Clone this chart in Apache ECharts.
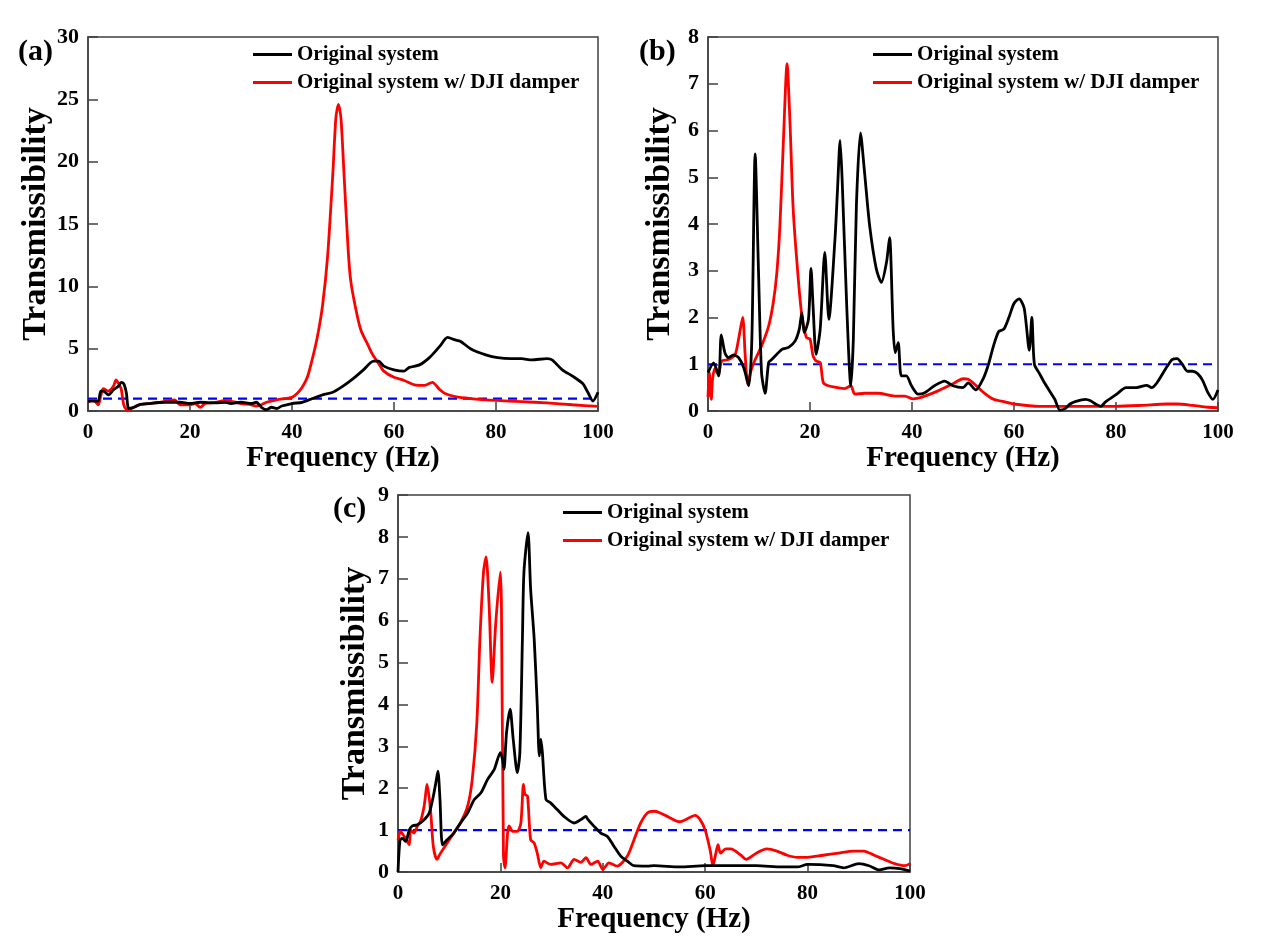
<!DOCTYPE html>
<html>
<head>
<meta charset="utf-8">
<title>Transmissibility</title>
<script src="https://cdn.jsdelivr.net/npm/echarts@6/dist/echarts.min.js"></script>
<style>
  html, body { margin: 0; padding: 0; background: #fff; }
  #chart { width: 1261px; height: 949px; }
</style>
</head>
<body>
<div id="chart"></div>
<script>
// (a) 原始系统 / 加 DJI 阻尼器
const freqA_orig = [0,1,2,2.5,3,4,5,6,6.5,7,7.5,8,9,10,12,15,18,20,22,25,27,28,30,32,33,34,35,36,37,38,40,42,44,46,48,50,52,54,56,57,58,60,62,63,65,67,69,70.5,72,73,75,78,80,83,85,87,90,91,93,95,97,98,99,100];
const transA_orig = [0.8,0.8,0.8,1.6,1.6,1.3,1.7,2.0,2.3,2.2,1.5,0.2,0.3,0.5,0.6,0.7,0.7,0.6,0.7,0.65,0.7,0.6,0.7,0.6,0.7,0.3,0.1,0.3,0.2,0.4,0.6,0.7,1.0,1.3,1.5,2.0,2.6,3.3,4.0,4.0,3.6,3.3,3.2,3.5,3.7,4.3,5.2,5.9,5.7,5.6,5.0,4.5,4.3,4.2,4.2,4.1,4.2,4.1,3.3,2.8,2.2,1.5,0.8,1.5];
const freqA_dji = [0,1,2,2.5,3,4,5,5.5,6,6.5,7,7.5,8,9,10,12,14,16,17,18,20,21,22,23,25,27,28,30,32,33,34,35,37,40,41,42,43,44,45,46,47,48,48.6,49.1,49.6,50.2,51,51.5,52.5,53.5,55,55.7,57,58,60,62,64,66,67.5,69,70,72,75,80,85,90,95,100];
const transA_dji = [0.7,0.9,0.5,1.2,1.8,1.6,2.0,2.5,2.2,1.8,0.5,0.15,0.1,0.3,0.5,0.6,0.7,0.85,0.9,0.5,0.5,0.6,0.3,0.6,0.7,0.85,0.8,0.6,0.5,0.4,0.5,0.7,0.9,1.1,1.4,1.9,2.7,4.2,6.0,8.5,12.5,19,23.5,24.6,23.5,19,13,10.5,8.2,6.5,5.2,4.6,3.8,3.2,2.7,2.45,2.1,2.05,2.3,1.7,1.4,1.15,1.0,0.85,0.75,0.65,0.5,0.37];

// (b)
const freqB_orig = [0,1.1,2.1,2.6,3.3,4,5,6,7,8,8.6,9.25,9.9,10.5,11.2,11.9,12.5,14.5,15.8,17.1,17.9,18.4,18.9,19.7,20.2,20.6,21.2,22,22.9,23.7,24.9,25.4,25.9,26.3,27.2,28,28.5,29.1,29.9,30.7,31.7,33,34,35,35.6,36.3,36.7,37.3,37.9,38.9,39.9,41.2,42.5,44.4,46.4,48,50,51,52.5,54,55,56,57,58,59,60,61,62,63,63.5,64,65,66,68,69,70,71,72,74,75,76,77,78,80,82,84,86,87,88,90,91,92,93,94,95,96,97,98,99,100];
const transB_orig = [0.82,1.03,0.75,1.63,1.25,1.14,1.2,1.14,0.93,0.54,1.54,5.5,3.0,0.82,0.38,1.04,1.1,1.32,1.36,1.5,1.75,2.1,1.68,1.96,3.05,2.25,1.21,1.75,3.39,1.96,3.68,4.75,5.79,4.96,2.25,0.54,1.54,4.4,5.95,5.1,3.96,3.04,2.75,3.18,3.71,1.75,1.25,1.46,0.75,0.75,0.54,0.36,0.39,0.54,0.64,0.54,0.5,0.6,0.45,0.7,1.0,1.4,1.7,1.75,2.0,2.3,2.4,2.2,1.3,2.0,1.0,0.8,0.6,0.25,0.02,0.05,0.15,0.2,0.25,0.22,0.15,0.1,0.2,0.35,0.5,0.5,0.55,0.5,0.6,0.95,1.1,1.12,1.0,0.85,0.85,0.8,0.65,0.4,0.25,0.45];
const freqB_dji = [0,0.26,0.65,0.9,1.3,1.8,2.1,2.7,4,5.3,6,6.8,7.3,7.8,8.3,9.25,10.5,11.9,12.8,13.5,14.1,14.8,15.5,16.1,16.7,17.6,18.4,19.3,20,20.6,21.2,22,22.6,23.6,25.5,26.8,28,28.8,30.7,33.4,36.6,38.6,40.2,41.8,45.1,48.3,50,51,52,54,56,58,60,65,70,75,80,85,90,92,95,98,100];
const transB_dji = [0.3,0.82,0.25,0.68,0.9,0.82,0.82,1.07,1.1,1.2,1.54,2.0,1.18,0.57,0.82,1.1,1.39,1.82,2.32,2.96,3.96,5.82,7.43,6.1,4.32,2.96,2.04,1.57,1.54,1.18,1.07,1.04,0.61,0.54,0.5,0.48,0.54,0.36,0.38,0.38,0.32,0.32,0.26,0.29,0.43,0.6,0.69,0.68,0.6,0.4,0.25,0.2,0.15,0.1,0.1,0.1,0.1,0.12,0.15,0.15,0.12,0.08,0.07];

// (c)
const freqC_orig = [0,0.4,0.85,1.5,2.2,2.8,3.8,5.1,6.1,6.9,7.5,7.8,8.2,8.7,9.6,10.9,12.2,13.6,14.9,16.2,17.5,18.8,20,20.4,20.7,21.2,21.9,22.5,23.3,23.8,24.3,24.6,25.4,25.9,26.6,27.2,27.6,27.9,28.2,28.9,29.8,31.1,32.4,34.4,35.7,36.7,37,38.3,39.6,40.9,42.2,43.5,44.8,46.1,48.7,50,55,60,65,70,75,78,80,85,87,90,92,94,96,98,100];
const transC_orig = [0.0,0.77,0.8,0.73,1.0,1.1,1.13,1.25,1.41,1.81,2.21,2.41,1.73,0.65,0.77,0.93,1.17,1.41,1.73,1.89,2.21,2.45,2.85,2.69,2.45,3.33,3.89,3.17,2.37,2.85,5.56,7.16,8.1,6.76,5.56,3.97,2.77,3.17,2.85,1.73,1.65,1.49,1.33,1.17,1.25,1.33,1.27,1.09,0.93,0.85,0.61,0.38,0.26,0.15,0.14,0.15,0.12,0.15,0.15,0.15,0.12,0.12,0.18,0.15,0.1,0.2,0.15,0.05,0.1,0.08,0.02];
const freqC_dji = [0,0.5,1.2,1.8,2.2,2.5,3.1,3.8,4.4,5.1,5.7,6.4,6.9,7.6,8.3,9.6,10.9,12.2,13.6,14.5,15.4,16,16.7,17.2,17.8,18.4,19.1,20,20.2,20.6,20.9,21.4,21.7,22.4,23.3,24,24.5,24.8,25.3,25.9,26.6,27.2,27.9,28.5,29.8,31.8,33.1,34.4,35.7,36.7,37.7,39,40,41.2,42.8,44.8,46.1,47.4,48.7,50,51,53,55,57,58,59,60,61,61.5,62,62.5,63,64,65,67,68,70,72,74,76,78,80,83,86,89,91,93,95,97,99,100];
const transC_dji = [0.77,0.97,0.85,0.73,0.65,1.0,0.93,1.1,1.21,1.57,2.09,1.41,0.61,0.3,0.45,0.69,0.93,1.17,1.57,2.21,3.57,5.56,7.16,7.52,6.36,4.53,5.96,7.16,6.36,0.38,0.1,0.93,1.1,0.97,0.97,1.17,2.09,1.85,1.81,0.77,0.69,0.45,0.1,0.26,0.18,0.22,0.1,0.3,0.23,0.34,0.18,0.26,0.06,0.22,0.14,0.38,0.77,1.17,1.41,1.45,1.42,1.3,1.2,1.3,1.35,1.25,1.0,0.5,0.15,0.4,0.65,0.45,0.55,0.55,0.4,0.3,0.45,0.55,0.5,0.4,0.35,0.35,0.4,0.45,0.5,0.5,0.4,0.3,0.2,0.15,0.2];

const unityLevel = 1;
const seriesNames = ['Original system', 'Original system w/ DJI damper'];
const panelLabels = ['(a)', '(b)', '(c)'];
const yMaxes = [30, 8, 9];
const yIntervals = [5, 1, 1];

const FONT = "'Liberation Serif', 'Times New Roman', serif";
const AXIS_COLOR = '#404040';

const grids = [
  { left: 88, top: 37, width: 510, height: 374 },
  { left: 708, top: 37, width: 510, height: 374 },
  { left: 398, top: 495, width: 512, height: 377 }
];
const legendPos = [
  { left: 253, top: 44 },
  { left: 873, top: 44 },
  { left: 563, top: 502 }
];
const labelPos = [
  { left: 18, top: 37 },
  { left: 639, top: 37 },
  { left: 333, top: 494 }
];
const yNameGaps = [33, 31, 26];

const panels = [
  [freqA_orig, transA_orig, freqA_dji, transA_dji],
  [freqB_orig, transB_orig, freqB_dji, transB_dji],
  [freqC_orig, transC_orig, freqC_dji, transC_dji]
];

function zip(xs, ys) {
  return xs.map((x, i) => [x, ys[i]]);
}

const chart = echarts.init(document.getElementById('chart'));

const xAxes = [], yAxes = [], series = [], legends = [], titles = [];

grids.forEach((g, i) => {
  xAxes.push({
    type: 'value', gridIndex: i, min: 0, max: 100, interval: 20,
    name: 'Frequency (Hz)', nameLocation: 'middle', nameGap: 24,
    nameTextStyle: { fontFamily: FONT, fontWeight: 'bold', fontSize: 29, color: '#000' },
    axisLine: { show: true, lineStyle: { color: AXIS_COLOR, width: 1.5 } },
    axisTick: { show: true, inside: true, length: 9, lineStyle: { color: AXIS_COLOR, width: 1.5 } },
    axisLabel: { fontFamily: FONT, fontWeight: 'bold', fontSize: 21, color: '#000', margin: 11 },
    splitLine: { show: false }
  });
  yAxes.push({
    type: 'value', gridIndex: i, min: 0, max: yMaxes[i], interval: yIntervals[i],
    name: 'Transmissibility', nameLocation: 'middle', nameGap: yNameGaps[i],
    nameTextStyle: { fontFamily: FONT, fontWeight: 'bold', fontSize: 34, color: '#000' },
    axisLine: { show: true, lineStyle: { color: AXIS_COLOR, width: 1.5 } },
    axisTick: { show: true, inside: true, length: 10, lineStyle: { color: AXIS_COLOR, width: 1.5 } },
    axisLabel: { fontFamily: FONT, fontWeight: 'bold', fontSize: 22, color: '#000', margin: 9 },
    splitLine: { show: false }
  });

  const [fo, to, fd, td] = panels[i];
  series.push({
    type: 'line', xAxisIndex: i, yAxisIndex: i, name: 'unity',
    data: [[0, unityLevel], [100, unityLevel]], showSymbol: false, silent: true,
    lineStyle: { color: '#0000ff', width: 2.2, type: [9, 6] }, z: 1
  });
  series.push({
    type: 'line', xAxisIndex: i, yAxisIndex: i, name: seriesNames[0],
    data: zip(fo, to), showSymbol: false, smooth: 0.25,
    itemStyle: { color: '#000' }, lineStyle: { color: '#000', width: 2.8 }, z: 3
  });
  series.push({
    type: 'line', xAxisIndex: i, yAxisIndex: i, name: seriesNames[1],
    data: zip(fd, td), showSymbol: false, smooth: 0.25,
    itemStyle: { color: '#ff0000' }, lineStyle: { color: '#ff0000', width: 2.8 }, z: 2
  });

  legends.push({
    data: seriesNames, orient: 'vertical', padding: 0,
    left: legendPos[i].left, top: legendPos[i].top,
    icon: 'rect', itemWidth: 39, itemHeight: 3, itemGap: 7,
    textStyle: { fontFamily: FONT, fontWeight: 'bold', fontSize: 21, color: '#000' }
  });
  titles.push({
    text: panelLabels[i], left: labelPos[i].left, top: labelPos[i].top, padding: 0,
    textStyle: { fontFamily: FONT, fontWeight: 'bold', fontSize: 30, color: '#000' }
  });
});

chart.setOption({
  animation: false,
  backgroundColor: '#fff',
  title: titles,
  legend: legends,
  grid: grids.map(g => Object.assign({ show: true, borderColor: AXIS_COLOR, borderWidth: 1.5, containLabel: false }, g)),
  xAxis: xAxes,
  yAxis: yAxes,
  series: series
});
</script>
</body>
</html>
